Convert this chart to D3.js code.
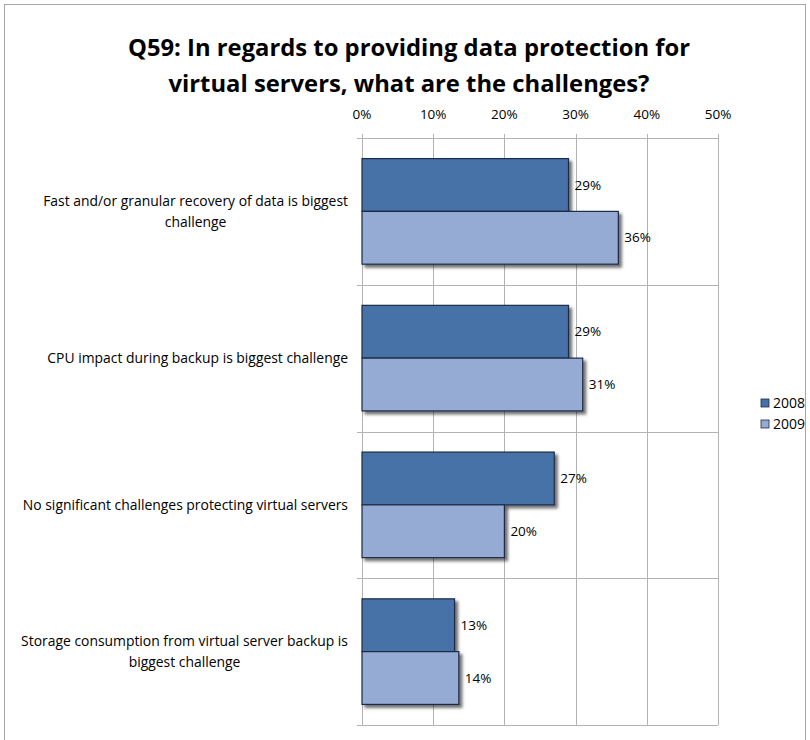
<!DOCTYPE html>
<html>
<head>
<meta charset="utf-8">
<script src="https://cdn.jsdelivr.net/npm/d3@7"></script>
<style>
  html, body { margin: 0; padding: 0; background: #fff; }
  svg { display: block; font-family: "Open Sans", Lato, sans-serif; }
</style>
</head>
<body>
<svg id="chart" width="810" height="740"></svg>
<script>
const categories = [
  "Fast and/or granular recovery of data is biggest challenge",
  "CPU impact during backup is biggest challenge",
  "No significant challenges protecting virtual servers",
  "Storage consumption from virtual server backup is biggest challenge"
];
const categoryLines = [
  ["Fast and/or granular recovery of data is biggest", "challenge"],
  ["CPU impact during backup is biggest challenge"],
  ["No significant challenges protecting virtual servers"],
  ["Storage consumption from virtual server backup is", "biggest challenge"]
];
const seriesNames = ["2008", "2009"];
const values2008 = [29, 29, 27, 13];
const values2009 = [36, 31, 20, 13.6];
const labels2008 = ["29%", "29%", "27%", "13%"];
const labels2009 = ["36%", "31%", "20%", "14%"];
const xTicks = [0, 10, 20, 30, 40, 50];
const colors = ["#4672A8", "#95ABD4"];
const titleLines = ["Q59: In regards to providing data protection for", "virtual servers, what are the challenges?"];

const svg = d3.select("#chart");

svg.append("rect").attr("x", 4.5).attr("y", 4.5).attr("width", 801).attr("height", 760)
  .attr("fill", "none").attr("stroke", "#a6a6a6").attr("stroke-width", 1);

svg.append("g").selectAll("text").data(titleLines).join("text")
  .attr("x", 409).attr("y", (d, i) => 56 + i * 36)
  .attr("text-anchor", "middle")
  .attr("font-size", 23.8).attr("font-weight", "bold").attr("fill", "#000")
  .text(d => d);

const plotLeft = 362, plotRight = 718, plotTop = 138, plotBottom = 725;
const x = d3.scaleLinear().domain([0, 50]).range([plotLeft, plotRight]);
const y0 = d3.scaleBand().domain(d3.range(categories.length)).range([plotTop, plotBottom]);
const y1 = d3.scaleBand().domain(seriesNames).range([0, y0.bandwidth()]).paddingOuter(0.39).paddingInner(0);

const defs = svg.append("defs");
const f = defs.append("filter").attr("id", "shadow").attr("x", "-10%").attr("y", "-20%").attr("width", "130%").attr("height", "160%");
f.append("feDropShadow").attr("dx", 3).attr("dy", 3).attr("stdDeviation", 1.6)
  .attr("flood-color", "#000").attr("flood-opacity", 0.55);

const grid = svg.append("g");
grid.selectAll("line.v").data(xTicks).join("line")
  .attr("class", "v")
  .attr("x1", d => Math.round(x(d)) + 0.5).attr("x2", d => Math.round(x(d)) + 0.5)
  .attr("y1", plotTop - 4).attr("y2", plotBottom)
  .attr("stroke", "#b3b3b3").attr("stroke-width", 1);
const bounds = d3.range(categories.length + 1).map(i => i === categories.length ? plotBottom : y0(i));
grid.selectAll("line.h").data(bounds).join("line")
  .attr("class", "h")
  .attr("x1", plotLeft - 5).attr("x2", plotRight)
  .attr("y1", d => Math.round(d) + 0.5).attr("y2", d => Math.round(d) + 0.5)
  .attr("stroke", "#b3b3b3").attr("stroke-width", 1);

svg.append("g").selectAll("text").data(xTicks).join("text")
  .attr("x", d => x(d)).attr("y", 119)
  .attr("text-anchor", "middle").attr("font-size", 13.5).attr("fill", "#000")
  .text(d => d + "%");

const series = [
  { name: "2008", values: values2008, labels: labels2008, color: colors[0] },
  { name: "2009", values: values2009, labels: labels2009, color: colors[1] }
];
const barG = svg.append("g");
series.forEach(s => {
  barG.append("g").selectAll("rect").data(s.values).join("rect")
    .attr("x", x(0))
    .attr("y", (d, i) => y0(i) + y1(s.name))
    .attr("width", d => x(d) - x(0))
    .attr("height", y1.bandwidth())
    .attr("fill", s.color)
    .attr("stroke", "#1c2a45").attr("stroke-width", 1.2)
    .attr("filter", "url(#shadow)");
});
series.forEach(s => {
  barG.append("g").selectAll("text").data(s.values).join("text")
    .attr("x", d => x(d) + 6)
    .attr("y", (d, i) => y0(i) + y1(s.name) + y1.bandwidth() / 2)
    .attr("dy", "0.35em")
    .attr("font-size", 13.5).attr("fill", "#000")
    .text((d, i) => s.labels[i]);
});

const catG = svg.append("g");
categoryLines.forEach((lines, i) => {
  const g = catG.append("g");
  const lh = 21;
  const cy = y0(i) + y0.bandwidth() / 2;
  const texts = g.selectAll("text").data(lines).join("text")
    .attr("y", (d, j) => cy + (j - (lines.length - 1) / 2) * lh)
    .attr("dy", "0.35em")
    .attr("font-size", 13.9).attr("fill", "#000")
    .attr("text-anchor", "middle")
    .text(d => d);
  let maxW = 0;
  texts.each(function() { maxW = Math.max(maxW, this.getComputedTextLength()); });
  const cx = 348 - maxW / 2;
  texts.attr("x", cx);
});

const leg = svg.append("g");
seriesNames.forEach((n, i) => {
  const ly = 403 + i * 21;
  leg.append("rect").attr("x", 761).attr("y", ly - 4).attr("width", 8).attr("height", 8)
    .attr("fill", colors[i]).attr("stroke", "#1c2a45").attr("stroke-width", 0.8);
  leg.append("text").attr("x", 773).attr("y", ly).attr("dy", "0.35em")
    .attr("font-size", 14).attr("fill", "#000").text(n);
});
</script>
</body>
</html>
